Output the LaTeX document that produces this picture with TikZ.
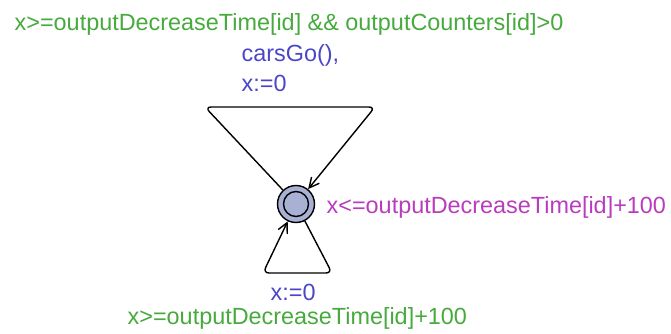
\documentclass[tikz,border=0pt]{standalone}
\usepackage{fontspec}
\setmainfont{Liberation Sans}
\usepackage{xcolor}
\usepackage{tikz}
\usetikzlibrary{arrows.meta, positioning, calc}

\definecolor{guardgreen}{RGB}{70,170,60}
\definecolor{updateblue}{RGB}{75,70,200}
\definecolor{invpink}{RGB}{185,60,190}
\definecolor{statefill}{RGB}{168,176,212}

\begin{document}
\begin{tikzpicture}[x=1pt, y=-1pt, line width=1.4pt,
    every node/.style={font=\fontsize{23.4}{28}\selectfont, inner sep=0pt},
    lbl/.style={anchor=base west},
    edge/.style={rounded corners=6pt, -{Straight Barb[length=10pt,width=10pt]}}]
    \useasboundingbox (0,0) rectangle (671,334);

    % State
    \node[circle, draw, fill=statefill, minimum size=37pt] (s) at (296,204) {};
    \draw (s.center) circle (12.5pt);

    % Top loop
    \coordinate (tl) at (205,107);
    \coordinate (tr) at (375,107);
    \draw[edge] (s) -- (tl) -- (tr) -- (s);

    % Bottom loop
    \coordinate (br) at (332,273);
    \coordinate (bl) at (263,273);
    \draw[edge] (s) -- (br) -- (bl) -- (s);

    % Labels
    \node[lbl, guardgreen] (guardtop) at (14,31) {x>=outputDecreaseTime[id] \&\& outputCounters[id]>0};
    \node[lbl, updateblue] (synctop) at (241,62) {carsGo(),};
    \node[lbl, updateblue] (resettop) at (241,92) {x:=0};
    \node[lbl, invpink] (inv) at (326,213) {x<=outputDecreaseTime[id]+100};
    \node[lbl, updateblue] (resetbot) at (270,300) {x:=0};
    \node[lbl, guardgreen] (guardbot) at (127,324) {x>=outputDecreaseTime[id]+100};
\end{tikzpicture}
\end{document}
